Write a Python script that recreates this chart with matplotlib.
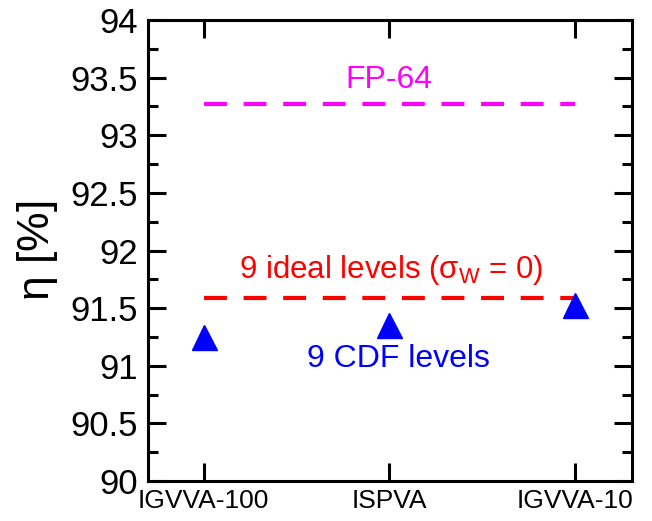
import matplotlib.pyplot as plt

plt.rcParams['font.family'] = ['Liberation Sans', 'DejaVu Sans']
plt.rcParams['mathtext.fontset'] = 'custom'
plt.rcParams['mathtext.rm'] = 'Liberation Sans'
plt.rcParams['mathtext.it'] = 'Liberation Sans'

# data
methods = ['IGVVA-100', 'ISPVA', 'IGVVA-10']
cdf_eta = [91.25, 91.35, 91.53]
fp64_eta = 93.27
ideal_eta = 91.585
yticks = [90, 90.5, 91, 91.5, 92, 92.5, 93, 93.5, 94]
ytick_labels = ['90', '90.5', '91', '91.5', '92', '92.5', '93', '93.5', '94']
yminor = [90.25, 90.75, 91.25, 91.75, 92.25, 92.75, 93.25, 93.75]

fig = plt.figure(figsize=(6.52, 5.21), dpi=100)
ax = fig.add_axes([148 / 652, 1 - 481 / 521, 484 / 652, 461 / 521])

x = list(range(len(methods)))

# reference lines
ax.plot([x[0], x[-1]], [fp64_eta, fp64_eta], color='#ff00ff', lw=3,
        linestyle=(0, (5.5, 4)))
ax.plot([x[0], x[-1]], [ideal_eta, ideal_eta], color='#ff0000', lw=3,
        linestyle=(0, (5.5, 4)))

# CDF level points
ax.plot(x, cdf_eta, linestyle='none', marker='^', markersize=18,
        color='#0000ff')

ax.text(1.0, 93.48, 'FP-64', color='#ff00ff', fontsize=23,
        ha='center', va='center')
ax.text(1.01, 91.83, r'9 ideal levels ($\sigma_{\rm W}$ = 0)', color='#ff0000',
        fontsize=22.5, ha='center', va='center')
ax.text(1.05, 91.06, '9 CDF levels', color='#0000ff', fontsize=23,
        ha='center', va='center')

ax.set_xlim(-0.30, 2.31)
ax.set_ylim(90, 94)
ax.set_xticks(x)
ax.set_xticklabels(methods, fontsize=19)
ax.set_yticks(yticks)
ax.set_yticklabels(ytick_labels, fontsize=25)
ax.set_yticks(yminor, minor=True)
ax.tick_params(which='both', direction='in', top=True, right=True, width=2.2)
ax.tick_params(which='major', length=13, pad=7)
ax.tick_params(axis='x', pad=6)
ax.tick_params(which='minor', length=7)
for s in ax.spines.values():
    s.set_linewidth(2.2)

ax.set_ylabel(r'$\eta$ [%]', fontsize=32, labelpad=8)

fig.savefig('out.png', dpi=100)
